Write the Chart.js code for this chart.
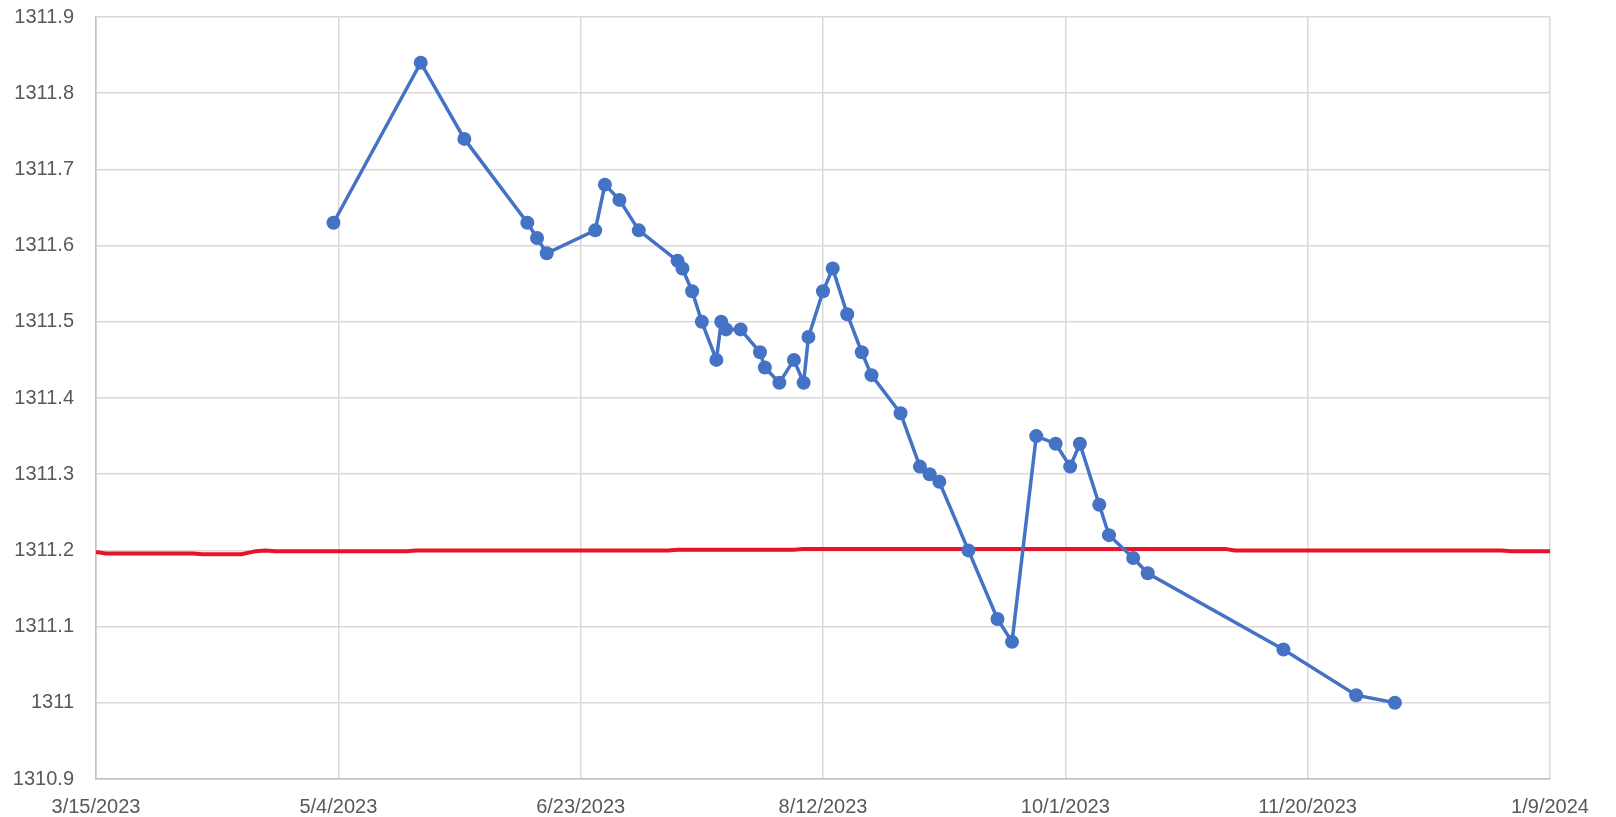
<!DOCTYPE html>
<html>
<head>
<meta charset="utf-8">
<script src="https://cdn.jsdelivr.net/npm/chart.js@4/dist/chart.umd.min.js"></script>
<style>
  html, body { margin: 0; padding: 0; background: #fff; }
  canvas { display: block; }
</style>
</head>
<body>
<canvas id="myChart" width="1616" height="817"></canvas>
<script>
// measured level (blue markers)
const measureDates = [
  "2023-05-03", "2023-05-21", "2023-05-30", "2023-06-12", "2023-06-14", "2023-06-16",
  "2023-06-26", "2023-06-28", "2023-07-01", "2023-07-05", "2023-07-13", "2023-07-14",
  "2023-07-16", "2023-07-18", "2023-07-21", "2023-07-22", "2023-07-23", "2023-07-26",
  "2023-07-30", "2023-07-31", "2023-08-03", "2023-08-06", "2023-08-08", "2023-08-09",
  "2023-08-12", "2023-08-14", "2023-08-17", "2023-08-20", "2023-08-22", "2023-08-28",
  "2023-09-01", "2023-09-03", "2023-09-05", "2023-09-11", "2023-09-17", "2023-09-20",
  "2023-09-25", "2023-09-29", "2023-10-02", "2023-10-04", "2023-10-08", "2023-10-10",
  "2023-10-15", "2023-10-18", "2023-11-15", "2023-11-30", "2023-12-08"
];
const measureValues = [
  1311.63, 1311.84, 1311.74, 1311.63, 1311.61, 1311.59,
  1311.62, 1311.68, 1311.66, 1311.62, 1311.58, 1311.57,
  1311.54, 1311.50, 1311.45, 1311.50, 1311.49, 1311.49,
  1311.46, 1311.44, 1311.42, 1311.45, 1311.42, 1311.48,
  1311.54, 1311.57, 1311.51, 1311.46, 1311.43, 1311.38,
  1311.31, 1311.30, 1311.29, 1311.20, 1311.11, 1311.08,
  1311.35, 1311.34, 1311.31, 1311.34, 1311.26, 1311.22,
  1311.19, 1311.17, 1311.07, 1311.01, 1311.00
];

// reference level (red line)
const refDates = [
  "2023-03-15", "2023-03-17", "2023-04-04", "2023-04-06", "2023-04-14", "2023-04-17",
  "2023-04-19", "2023-04-21", "2023-05-18", "2023-05-20", "2023-07-11", "2023-07-13",
  "2023-08-06", "2023-08-08", "2023-11-03", "2023-11-05", "2023-12-30", "2024-01-01",
  "2024-01-09"
];
const refValues = [
  1311.198, 1311.196, 1311.196, 1311.195, 1311.195, 1311.199,
  1311.200, 1311.199, 1311.199, 1311.200, 1311.200, 1311.201,
  1311.201, 1311.202, 1311.202, 1311.200, 1311.200, 1311.199,
  1311.199
];

const startDay = Date.UTC(2023, 2, 15);
const dayMs = 86400000;

function dayOf(s) {
  const p = s.split("-");
  return Math.round((Date.UTC(+p[0], +p[1] - 1, +p[2]) - startDay) / dayMs);
}

function dateLabel(d) {
  const dt = new Date(startDay + d * dayMs);
  return (dt.getUTCMonth() + 1) + "/" + dt.getUTCDate() + "/" + dt.getUTCFullYear();
}

const measurePts = measureDates.map((d, i) => ({ x: dayOf(d), y: measureValues[i] }));
const refPts = refDates.map((d, i) => ({ x: dayOf(d), y: refValues[i] }));

const font = { family: "'Liberation Sans', Arial, sans-serif", size: 20 };

const ctx = document.getElementById("myChart").getContext("2d");
new Chart(ctx, {
  type: "line",
  data: {
    datasets: [
      {
        label: "Reference",
        data: refPts,
        borderColor: "#E8132A",
        borderWidth: 4,
        pointRadius: 0,
        tension: 0,
        order: 2
      },
      {
        label: "Level",
        data: measurePts,
        borderColor: "#4472C4",
        backgroundColor: "#4472C4",
        borderWidth: 3.5,
        pointRadius: 7,
        pointBorderWidth: 0,
        tension: 0,
        order: 1
      }
    ]
  },
  options: {
    responsive: false,
    animation: false,
    layout: { padding: { left: 0, right: 66, top: 17, bottom: 0 } },
    plugins: {
      legend: { display: false },
      tooltip: { enabled: false }
    },
    scales: {
      x: {
        type: "linear",
        min: 0,
        max: 300,
        afterFit: (scale) => {
          scale.height = 38;
          scale.paddingLeft = 0;
          scale.paddingRight = 0;
        },
        afterBuildTicks: (scale) => {
          scale.ticks = [0, 50, 100, 150, 200, 250, 300].map(v => ({ value: v }));
        },
        ticks: {
          callback: (v) => dateLabel(v),
          color: "#595959",
          font,
          padding: 16,
          maxRotation: 0,
          autoSkip: false
        },
        grid: { color: "#D9D9D9", lineWidth: 1.5, drawTicks: false },
        border: { color: "#BFBFBF", width: 1.5 }
      },
      y: {
        min: 1310.9,
        max: 1311.9,
        afterFit: (scale) => {
          scale.width = 96;
          scale.paddingTop = 0;
          scale.paddingBottom = 0;
        },
        afterBuildTicks: (scale) => {
          const t = [];
          for (let i = 0; i <= 10; i++) t.push({ value: 1310.9 + i * 0.1 });
          scale.ticks = t;
        },
        ticks: {
          callback: (v) => String(Math.round(v * 10) / 10),
          color: "#595959",
          font,
          padding: 22
        },
        grid: { color: "#D9D9D9", lineWidth: 1.5, drawTicks: false },
        border: { color: "#BFBFBF", width: 1.5 }
      }
    }
  }
});
</script>
</body>
</html>
